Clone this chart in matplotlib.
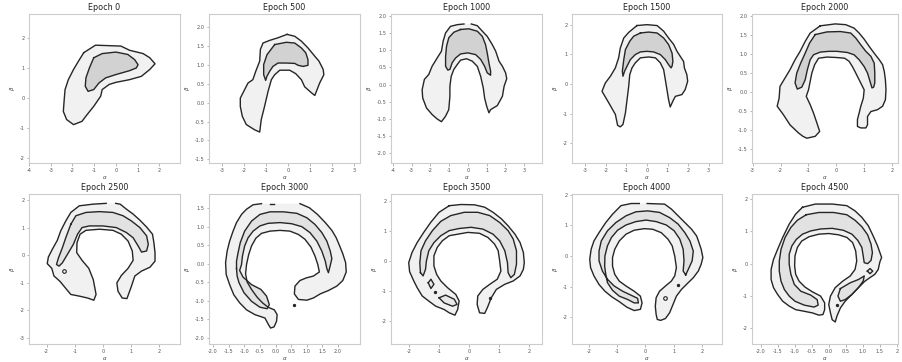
import matplotlib
matplotlib.use("Agg")
import matplotlib.pyplot as plt
from matplotlib.patches import Polygon
import numpy as np

# ---------------- data ----------------
epochs = [0, 500, 1000, 1500, 2000, 2500, 3000, 3500, 4000, 4500]

xlims = [(-4.0, 2.95), (-3.6, 3.25), (-4.1, 3.95), (-3.65, 3.65), (-3.02, 2.2),
         (-2.63, 2.75), (-2.13, 2.7), (-2.6, 2.43), (-2.61, 2.72), (-2.25, 2.03)]
ylims = [(-2.17, 2.8), (-1.6, 2.35), (-2.28, 2.05), (-2.67, 2.36), (-1.87, 2.04),
         (-3.22, 2.23), (-2.16, 1.88), (-2.77, 2.23), (-2.87, 2.02), (-2.48, 2.15)]
xticks = [[-4, -3, -2, -1, 0, 1, 2], [-3, -2, -1, 0, 1, 2, 3], [-4, -3, -2, -1, 0, 1, 2, 3],
          [-3, -2, -1, 0, 1, 2, 3], [-3, -2, -1, 0, 1, 2],
          [-2, -1, 0, 1, 2], [-2.0, -1.5, -1.0, -0.5, 0.0, 0.5, 1.0, 1.5, 2.0],
          [-2, -1, 0, 1, 2], [-2, -1, 0, 1, 2],
          [-2.0, -1.5, -1.0, -0.5, 0.0, 0.5, 1.0, 1.5, 2.0]]
yticks = [[-2, -1, 0, 1, 2], [-1.5, -1.0, -0.5, 0.0, 0.5, 1.0, 1.5, 2.0],
          [-2.0, -1.5, -1.0, -0.5, 0.0, 0.5, 1.0, 1.5, 2.0], [-2, -1, 0, 1, 2],
          [-1.5, -1.0, -0.5, 0.0, 0.5, 1.0, 1.5, 2.0],
          [-3, -2, -1, 0, 1, 2], [-2.0, -1.5, -1.0, -0.5, 0.0, 0.5, 1.0, 1.5],
          [-2, -1, 0, 1, 2], [-2, -1, 0, 1, 2], [-2, -1, 0, 1, 2]]
xlabel = r"$\alpha$"
ylabel = r"$\beta$"

# contour vertices (outer = lower density level, inner = higher density level)
ep0_outer = [(-1.48, 1.51), (-0.94, 1.76), (0.23, 1.73), (0.63, 1.59), (1.25, 1.48), (1.56, 1.34),
             (1.80, 1.14), (1.56, 0.95), (1.17, 0.72), (0.63, 0.61), (0.0, 0.52), (-0.31, 0.45),
             (-0.63, 0.28), (-0.70, 0.06), (-1.02, -0.28), (-1.33, -0.56), (-1.56, -0.78),
             (-1.95, -0.89), (-2.27, -0.72), (-2.42, -0.45), (-2.38, -0.06), (-2.34, 0.28),
             (-2.19, 0.61), (-1.95, 0.95), (-1.72, 1.23)]
ep0_inner = [(-1.02, 1.34), (-0.63, 1.48), (0.0, 1.53), (0.55, 1.45), (0.86, 1.28), (1.02, 1.11),
             (0.94, 1.0), (0.63, 0.91), (0.0, 0.78), (-0.47, 0.67), (-0.78, 0.50), (-1.02, 0.28),
             (-1.28, 0.22), (-1.41, 0.39), (-1.38, 0.67), (-1.22, 1.0)]

ep500_outer = [(-0.06, 1.81), (0.29, 1.76), (0.59, 1.63), (0.89, 1.45), (1.20, 1.23), (1.39, 1.10),
               (1.58, 0.88), (1.61, 0.74), (1.42, 0.52), (1.20, 0.19), (1.05, 0.26), (0.74, 0.42),
               (0.59, 0.61), (0.33, 0.77), (0.06, 0.86), (-0.39, 0.86), (-0.62, 0.74), (-0.77, 0.61),
               (-0.92, 0.30), (-1.08, -0.10), (-1.23, -0.45), (-1.30, -0.78), (-1.53, -0.72),
               (-1.91, -0.58), (-2.09, -0.36), (-2.18, -0.10), (-2.18, 0.12), (-1.98, 0.35),
               (-1.83, 0.52), (-1.61, 0.61), (-1.48, 0.83), (-1.30, 1.10), (-1.27, 1.41),
               (-1.15, 1.58), (-0.85, 1.65), (-0.47, 1.72)]
ep500_inner = [(-0.62, 1.54), (-0.09, 1.60), (0.29, 1.58), (0.59, 1.45), (0.79, 1.32), (0.89, 1.14),
               (0.89, 0.99), (0.67, 0.96), (0.44, 0.99), (0.29, 1.04), (-0.09, 1.05), (-0.47, 1.05),
               (-0.70, 0.96), (-0.85, 0.83), (-0.97, 0.70), (-1.03, 0.59), (-1.12, 0.74),
               (-1.12, 1.01), (-0.97, 1.27)]

ep1000_outer = [(0.18, 1.76), (0.50, 1.71), (0.77, 1.55), (1.03, 1.40), (1.30, 1.16), (1.48, 0.97),
                (1.66, 0.68), (1.84, 0.53), (2.01, 0.34), (2.07, 0.17), (1.93, -0.05), (1.84, -0.34),
                (1.57, -0.61), (1.21, -0.73), (1.12, -0.82), (1.00, -0.63), (0.89, -0.39),
                (0.82, -0.10), (0.68, 0.24), (0.50, 0.53), (0.23, 0.68), (-0.07, 0.75), (-0.39, 0.71),
                (-0.57, 0.58), (-0.75, 0.44), (-0.89, 0.24), (-0.96, -0.05), (-0.96, -0.34),
                (-1.02, -0.73), (-1.19, -0.92), (-1.41, -1.08), (-1.64, -1.00), (-1.91, -0.87),
                (-2.21, -0.68), (-2.41, -0.39), (-2.44, -0.15), (-2.32, 0.15), (-2.09, 0.29),
                (-1.91, 0.53), (-1.64, 0.77), (-1.41, 0.97), (-1.32, 1.26), (-1.19, 1.50),
                (-0.93, 1.69), (-0.57, 1.74), (-0.21, 1.76)]
ep1000_inner = [(-0.39, 1.60), (0.05, 1.62), (0.50, 1.55), (0.77, 1.40), (0.94, 1.16), (1.03, 0.92),
                (1.12, 0.63), (1.21, 0.39), (1.21, 0.27), (1.03, 0.34), (0.89, 0.53), (0.68, 0.73),
                (0.41, 0.87), (0.0, 0.92), (-0.39, 0.89), (-0.66, 0.77), (-0.84, 0.63), (-0.96, 0.44),
                (-1.07, 0.42), (-1.19, 0.53), (-1.19, 0.82), (-1.14, 1.11), (-1.02, 1.36), (-0.75, 1.52)]

ep1500_outer = [(-0.49, 1.97), (0.0, 2.0), (0.49, 1.97), (0.81, 1.78), (1.05, 1.55), (1.30, 1.33),
                (1.46, 1.10), (1.62, 0.93), (1.78, 0.76), (1.82, 0.54), (1.94, 0.31), (1.98, 0.09),
                (1.86, -0.19), (1.70, -0.36), (1.38, -0.42), (1.26, -0.58), (1.13, -0.78),
                (1.05, -0.53), (0.97, -0.19), (0.89, 0.15), (0.81, 0.48), (0.65, 0.71), (0.41, 0.88),
                (0.08, 0.91), (-0.32, 0.88), (-0.57, 0.71), (-0.73, 0.54), (-0.84, 0.31),
                (-0.89, -0.08), (-0.97, -0.53), (-1.05, -0.98), (-1.17, -1.37), (-1.30, -1.45),
                (-1.43, -1.40), (-1.54, -1.03), (-1.86, -0.64), (-2.19, -0.25), (-2.03, 0.03),
                (-1.78, 0.26), (-1.54, 0.54), (-1.38, 0.88), (-1.30, 1.21), (-1.13, 1.55), (-0.89, 1.74)]
ep1500_inner = [(-0.32, 1.72), (0.08, 1.75), (0.49, 1.72), (0.81, 1.55), (1.05, 1.33), (1.22, 1.04),
                (1.26, 0.76), (1.22, 0.60), (1.17, 0.54), (1.05, 0.65), (0.89, 0.82), (0.65, 0.99),
                (0.32, 1.08), (0.0, 1.10), (-0.32, 1.08), (-0.57, 0.99), (-0.81, 0.82), (-0.97, 0.60),
                (-1.09, 0.43), (-1.17, 0.26), (-1.20, 0.43), (-1.13, 0.82), (-1.05, 1.16),
                (-0.84, 1.44), (-0.65, 1.61)]

ep2000_outer = [(-0.58, 1.73), (-0.04, 1.78), (0.33, 1.76), (0.63, 1.67), (0.81, 1.54), (0.99, 1.38),
                (1.17, 1.19), (1.35, 1.01), (1.53, 0.84), (1.65, 0.71), (1.71, 0.53), (1.75, 0.31),
                (1.77, 0.05), (1.75, -0.21), (1.65, -0.38), (1.47, -0.47), (1.23, -0.52),
                (1.11, -0.65), (1.11, -0.87), (1.05, -0.95), (0.87, -0.95), (0.75, -0.91),
                (0.75, -0.73), (0.81, -0.56), (0.87, -0.38), (0.96, -0.17), (0.99, 0.05), (0.84, 0.27),
                (0.69, 0.49), (0.57, 0.66), (0.45, 0.80), (0.29, 0.88), (-0.04, 0.90), (-0.34, 0.91),
                (-0.64, 0.88), (-0.78, 0.71), (-0.88, 0.49), (-0.94, 0.27), (-1.00, 0.05),
                (-1.08, -0.12), (-0.94, -0.34), (-0.82, -0.56), (-0.70, -0.82), (-0.60, -1.04),
                (-0.76, -1.17), (-1.06, -1.22), (-1.20, -1.17), (-1.36, -1.08), (-1.66, -0.87),
                (-1.90, -0.60), (-2.12, -0.38), (-2.05, -0.17), (-2.02, 0.14), (-1.84, 0.36),
                (-1.66, 0.58), (-1.48, 0.84), (-1.30, 1.06), (-1.12, 1.32), (-0.94, 1.54)]
ep2000_inner = [(-0.76, 1.50), (-0.34, 1.57), (0.14, 1.58), (0.51, 1.54), (0.69, 1.41), (0.87, 1.23),
                (1.05, 1.06), (1.23, 0.93), (1.35, 0.75), (1.37, 0.49), (1.37, 0.23), (1.33, 0.12),
                (1.27, 0.10), (1.20, 0.27), (1.11, 0.49), (0.99, 0.66), (0.81, 0.84), (0.63, 0.97),
                (0.39, 1.03), (0.02, 1.06), (-0.28, 1.06), (-0.58, 1.04), (-0.82, 0.97),
                (-0.94, 0.84), (-1.04, 0.58), (-1.12, 0.31), (-1.24, 0.12), (-1.40, 0.07),
                (-1.48, 0.23), (-1.42, 0.49), (-1.28, 0.75), (-1.12, 1.01), (-0.96, 1.28)]

ep2500_outer = [(0.46, 1.89), (0.62, 1.86), (0.84, 1.68), (1.08, 1.50), (1.32, 1.28), (1.56, 1.03),
                (1.77, 0.77), (1.82, 0.46), (1.86, 0.10), (1.86, -0.21), (1.68, -0.43), (1.38, -0.57),
                (1.14, -0.75), (1.02, -1.12), (0.86, -1.57), (0.69, -1.55), (0.54, -1.30),
                (0.50, -1.00), (0.66, -0.73), (0.90, -0.47), (1.08, -0.18), (1.05, 0.16), (0.90, 0.52),
                (0.66, 0.77), (0.36, 0.91), (-0.12, 0.95), (-0.60, 0.91), (-0.81, 0.77), (-0.92, 0.46),
                (-0.93, 0.10), (-0.74, -0.18), (-0.50, -0.47), (-0.34, -0.88), (-0.24, -1.42),
                (-0.32, -1.63), (-0.54, -1.55), (-0.84, -1.48), (-1.14, -1.42), (-1.32, -1.20),
                (-1.53, -0.94), (-1.74, -0.75), (-1.82, -0.47), (-1.98, -0.30), (-1.94, -0.06),
                (-1.80, 0.22), (-1.62, 0.55), (-1.50, 0.89), (-1.32, 1.25), (-1.14, 1.56),
                (-0.84, 1.80), (-0.36, 1.86), (0.12, 1.89)]
ep2500_inner = [(-1.14, 1.13), (-0.96, 1.44), (-0.60, 1.56), (-0.12, 1.59), (0.36, 1.56), (0.72, 1.44),
                (1.02, 1.25), (1.32, 1.01), (1.56, 0.71), (1.62, 0.40), (1.56, 0.16), (1.38, 0.12),
                (1.26, 0.34), (1.08, 0.64), (0.84, 0.83), (0.48, 1.01), (0.0, 1.07), (-0.48, 1.07),
                (-0.74, 1.01), (-0.90, 0.77), (-1.05, 0.40), (-1.26, 0.04), (-1.44, -0.27),
                (-1.56, -0.39), (-1.65, -0.33), (-1.58, -0.09), (-1.44, 0.28), (-1.32, 0.64)]
ep2500_small = [(-1.38, -0.57)]

ep3000_outer = [(-0.45, 1.62), (-0.72, 1.59), (-0.93, 1.47), (-1.09, 1.33), (-1.25, 1.11), (-1.36, 0.88),
                (-1.47, 0.61), (-1.55, 0.34), (-1.60, 0.03), (-1.58, -0.29), (-1.47, -0.56),
                (-1.34, -0.83), (-1.15, -1.05), (-0.93, -1.24), (-0.66, -1.37), (-0.34, -1.46),
                (-0.24, -1.62), (-0.16, -1.73), (-0.05, -1.70), (0.03, -1.55), (0.05, -1.37),
                (-0.04, -1.24), (-0.24, -1.17), (-0.42, -1.05), (-0.59, -0.90), (-0.77, -0.69),
                (-0.91, -0.49), (-0.96, -0.27), (-0.93, -0.02), (-0.86, 0.25), (-0.77, 0.48),
                (-0.63, 0.69), (-0.45, 0.82), (-0.18, 0.88), (0.14, 0.90), (0.46, 0.88), (0.73, 0.79),
                (0.94, 0.66), (1.13, 0.45), (1.26, 0.21), (1.35, -0.02), (1.40, -0.22), (1.21, -0.33),
                (0.98, -0.38), (0.78, -0.45), (0.62, -0.60), (0.60, -0.81), (0.73, -0.96),
                (1.00, -0.98), (1.21, -0.92), (1.43, -0.81), (1.69, -0.72), (1.96, -0.60),
                (2.15, -0.45), (2.26, -0.22), (2.24, 0.03), (2.15, 0.27), (2.05, 0.48), (1.94, 0.70),
                (1.80, 0.90), (1.59, 1.11), (1.34, 1.33), (1.08, 1.51), (0.78, 1.62)]
ep3000_dash = [(-0.18, 1.62), (-0.04, 1.62)]
ep3000_inner = [(-1.25, -0.13), (-1.25, 0.07), (-1.20, 0.30), (-1.13, 0.57), (-0.99, 0.88), (-0.77, 1.15),
                (-0.50, 1.33), (-0.18, 1.40), (0.25, 1.40), (0.68, 1.36), (1.00, 1.24), (1.26, 1.06),
                (1.48, 0.84), (1.64, 0.61), (1.75, 0.34), (1.80, 0.14), (1.75, -0.04), (1.69, -0.24),
                (1.64, -0.13), (1.59, 0.07), (1.48, 0.34), (1.32, 0.61), (1.10, 0.84), (0.84, 1.00),
                (0.51, 1.08), (0.14, 1.11), (-0.24, 1.09), (-0.50, 1.02), (-0.72, 0.88), (-0.88, 0.70),
                (-0.99, 0.48), (-1.06, 0.21), (-1.09, -0.02), (-1.15, -0.18), (-1.04, -0.36),
                (-0.77, -0.56), (-0.47, -0.69), (-0.29, -0.87), (-0.20, -1.10), (-0.27, -1.21),
                (-0.50, -1.17), (-0.77, -1.01), (-1.01, -0.78), (-1.17, -0.51), (-1.23, -0.33)]
ep3000_small = [(0.60, -1.12)]

ep3500_outer = [(-0.66, 1.84), (-0.27, 1.88), (0.18, 1.87), (0.52, 1.79), (0.80, 1.62), (1.08, 1.40),
                (1.30, 1.17), (1.53, 0.89), (1.70, 0.61), (1.81, 0.28), (1.84, -0.06), (1.81, -0.28),
                (1.70, -0.50), (1.47, -0.67), (1.19, -0.78), (0.91, -0.95), (0.74, -1.23),
                (0.61, -1.56), (0.52, -1.75), (0.35, -1.73), (0.27, -1.45), (0.29, -1.17),
                (0.46, -0.95), (0.69, -0.78), (0.94, -0.61), (1.06, -0.34), (1.02, 0.0), (0.97, 0.34),
                (0.85, 0.56), (0.63, 0.78), (0.35, 0.92), (-0.04, 0.95), (-0.38, 0.89), (-0.66, 0.84),
                (-0.89, 0.67), (-1.06, 0.45), (-1.17, 0.17), (-1.17, -0.17), (-1.08, -0.45),
                (-0.94, -0.67), (-0.72, -0.89), (-0.44, -1.12), (-0.33, -1.34), (-0.38, -1.62),
                (-0.47, -1.81), (-0.66, -1.73), (-0.83, -1.62), (-1.11, -1.51), (-1.34, -1.34),
                (-1.56, -1.17), (-1.73, -0.89), (-1.84, -0.67), (-1.98, -0.36), (-2.01, -0.06),
                (-1.90, 0.28), (-1.73, 0.61), (-1.51, 0.95), (-1.28, 1.28), (-1.00, 1.62)]
ep3500_inner = [(-1.62, -0.39), (-1.64, -0.06), (-1.60, 0.34), (-1.45, 0.67), (-1.22, 1.01), (-0.94, 1.32),
                (-0.61, 1.51), (-0.16, 1.62), (0.29, 1.62), (0.69, 1.51), (1.02, 1.28), (1.30, 1.01),
                (1.47, 0.73), (1.58, 0.34), (1.58, -0.11), (1.51, -0.45), (1.39, -0.56), (1.30, -0.39),
                (1.28, -0.06), (1.19, 0.34), (1.02, 0.67), (0.80, 0.89), (0.46, 1.06), (0.07, 1.12),
                (-0.33, 1.08), (-0.66, 1.01), (-0.94, 0.84), (-1.17, 0.61), (-1.34, 0.34), (-1.42, 0.0),
                (-1.45, -0.28), (-1.53, -0.50)]
ep3500_diamond = [(-1.36, -0.73), (-1.27, -0.61), (-1.17, -0.78), (-1.27, -0.92)]
ep3500_blob = [(-1.00, -1.23), (-0.78, -1.14), (-0.49, -1.28), (-0.40, -1.45), (-0.55, -1.51), (-0.83, -1.40)]
ep3500_small = [(-1.15, -1.03), (0.71, -1.23)]

ep4000_outer = [(0.06, 1.71), (0.68, 1.69), (0.92, 1.53), (1.16, 1.31), (1.40, 1.09), (1.64, 0.87),
                (1.82, 0.65), (1.90, 0.44), (1.98, 0.22), (2.04, -0.05), (1.98, -0.27), (1.88, -0.49),
                (1.70, -0.71), (1.52, -0.87), (1.28, -1.09), (1.10, -1.31), (0.98, -1.58),
                (0.86, -1.85), (0.71, -2.04), (0.54, -2.10), (0.42, -2.07), (0.38, -1.91),
                (0.35, -1.64), (0.38, -1.36), (0.50, -1.15), (0.71, -0.98), (0.92, -0.82),
                (1.04, -0.65), (1.10, -0.38), (1.04, 0.0), (0.95, 0.33), (0.80, 0.55), (0.56, 0.76),
                (0.26, 0.87), (-0.04, 0.89), (-0.40, 0.84), (-0.69, 0.71), (-0.93, 0.49), (-1.09, 0.22),
                (-1.17, -0.05), (-1.17, -0.33), (-1.09, -0.60), (-0.93, -0.82), (-0.69, -0.98),
                (-0.40, -1.15), (-0.18, -1.31), (-0.12, -1.53), (-0.18, -1.74), (-0.40, -1.78),
                (-0.66, -1.67), (-0.93, -1.49), (-1.20, -1.33), (-1.44, -1.15), (-1.65, -0.93),
                (-1.83, -0.65), (-1.95, -0.38), (-1.98, -0.11), (-1.93, 0.22), (-1.83, 0.49),
                (-1.65, 0.76), (-1.41, 1.09), (-1.17, 1.36), (-0.87, 1.64), (-0.51, 1.71), (-0.22, 1.71)]
ep4000_inner = [(1.43, -0.62), (1.52, -0.44), (1.66, -0.16), (1.70, 0.16), (1.58, 0.49), (1.40, 0.76),
                (1.16, 1.04), (0.86, 1.25), (0.50, 1.42), (0.08, 1.47), (-0.34, 1.44), (-0.69, 1.31),
                (-1.05, 1.09), (-1.35, 0.82), (-1.57, 0.49), (-1.65, 0.16), (-1.65, -0.16),
                (-1.53, -0.49), (-1.35, -0.76), (-1.11, -0.98), (-0.81, -1.15), (-0.51, -1.28),
                (-0.28, -1.38), (-0.25, -1.53), (-0.40, -1.53), (-0.63, -1.42), (-0.93, -1.31),
                (-1.17, -1.12), (-1.35, -0.87), (-1.41, -0.60), (-1.45, -0.33), (-1.44, 0.0),
                (-1.35, 0.33), (-1.21, 0.60), (-0.99, 0.84), (-0.69, 1.01), (-0.34, 1.12), (0.02, 1.17),
                (0.38, 1.12), (0.74, 1.01), (1.02, 0.82), (1.22, 0.55), (1.34, 0.22), (1.37, -0.16),
                (1.34, -0.49)]
ep4000_small = [(0.68, -1.38), (1.16, -0.95)]

ep4500_outer = [(-0.77, 1.74), (-0.39, 1.84), (0.10, 1.84), (0.53, 1.79), (0.77, 1.63), (0.97, 1.43),
                (1.16, 1.17), (1.30, 0.86), (1.43, 0.55), (1.50, 0.34), (1.55, 0.19), (1.50, 0.06),
                (1.45, -0.18), (1.35, -0.33), (1.21, -0.43), (1.06, -0.54), (0.87, -0.74),
                (0.68, -0.95), (0.48, -1.16), (0.34, -1.37), (0.24, -1.62), (0.19, -1.80),
                (0.10, -1.73), (0.05, -1.52), (0.0, -1.26), (0.05, -1.00), (0.19, -0.74), (0.41, -0.54),
                (0.63, -0.38), (0.77, -0.18), (0.82, 0.08), (0.79, 0.39), (0.70, 0.65), (0.53, 0.81),
                (0.29, 0.89), (0.0, 0.93), (-0.29, 0.91), (-0.58, 0.83), (-0.79, 0.70), (-0.92, 0.50),
                (-0.99, 0.24), (-1.00, -0.07), (-0.97, -0.33), (-0.87, -0.54), (-0.70, -0.72),
                (-0.48, -0.87), (-0.24, -1.00), (-0.12, -1.21), (-0.12, -1.42), (-0.17, -1.57),
                (-0.29, -1.59), (-0.48, -1.52), (-0.72, -1.47), (-0.97, -1.42), (-1.16, -1.31),
                (-1.35, -1.16), (-1.50, -0.95), (-1.62, -0.74), (-1.69, -0.49), (-1.69, -0.18),
                (-1.62, 0.13), (-1.50, 0.44), (-1.35, 0.81), (-1.16, 1.22), (-0.97, 1.53)]
ep4500_inner = [(-0.66, 1.51), (-0.29, 1.58), (0.14, 1.58), (0.53, 1.51), (0.77, 1.34), (0.97, 1.14),
                (1.14, 0.89), (1.24, 0.60), (1.28, 0.34), (1.24, 0.10), (1.14, 0.0), (1.04, 0.03),
                (1.01, 0.24), (0.97, 0.50), (0.85, 0.72), (0.68, 0.91), (0.43, 1.03), (0.10, 1.09),
                (-0.24, 1.07), (-0.53, 1.01), (-0.77, 0.91), (-0.95, 0.75), (-1.08, 0.55),
                (-1.16, 0.29), (-1.16, -0.02), (-1.11, -0.33), (-1.01, -0.64), (-0.82, -0.85),
                (-0.53, -0.97), (-0.34, -1.11), (-0.31, -1.28), (-0.43, -1.34), (-0.72, -1.28),
                (-0.99, -1.16), (-1.16, -1.00), (-1.30, -0.80), (-1.40, -0.54), (-1.45, -0.23),
                (-1.45, 0.08), (-1.40, 0.44), (-1.28, 0.81), (-1.11, 1.12), (-0.92, 1.34)]
ep4500_lobe = [(0.34, -0.77), (0.63, -0.59), (0.87, -0.49), (1.04, -0.38), (1.01, -0.54), (0.87, -0.74),
               (0.68, -0.95), (0.48, -1.11), (0.34, -1.16), (0.27, -1.00)]
ep4500_diamond = [(1.13, -0.23), (1.21, -0.15), (1.29, -0.23), (1.21, -0.31)]
ep4500_small = [(0.24, -1.28)]

# (outer contour, outer closed?, list of inner contours, extra closed loops, tiny dots, open dashes)
panels = [
    (ep0_outer, True, [ep0_inner], [], [], []),
    (ep500_outer, True, [ep500_inner], [], [], []),
    (ep1000_outer, False, [ep1000_inner], [], [], []),
    (ep1500_outer, True, [ep1500_inner], [], [], []),
    (ep2000_outer, True, [ep2000_inner], [], [], []),
    (ep2500_outer, False, [ep2500_inner], [], ep2500_small, []),
    (ep3000_outer, False, [ep3000_inner], [], ep3000_small, [ep3000_dash]),
    (ep3500_outer, True, [ep3500_inner], [ep3500_diamond, ep3500_blob], ep3500_small, []),
    (ep4000_outer, False, [ep4000_inner], [], ep4000_small, []),
    (ep4500_outer, True, [ep4500_inner, ep4500_lobe], [ep4500_diamond], ep4500_small, []),
]

# ---------------- figure ----------------
W, H = 902, 362
fig = plt.figure(figsize=(W / 100, H / 100), dpi=100)
col_left = [29, 209, 391, 572, 752]
col_w = [151, 151, 151, 150, 146]
row_top = [14, 194]
row_h = [149, 150]

LINE = "#262626"
for i, ep in enumerate(epochs):
    r, c = divmod(i, 5)
    ax = fig.add_axes([col_left[c] / W, (H - row_top[r] - row_h[r]) / H,
                       col_w[c] / W, row_h[r] / H])
    outer, oclosed, inners, extras, dots, dashes = panels[i]
    light = "#f1f1f1"
    dark = "#d2d2d2" if r == 0 else "#e2e2e2"
    ax.add_patch(Polygon(outer, closed=True, facecolor=light, edgecolor="none", zorder=1))
    for inn in inners:
        ax.add_patch(Polygon(inn, closed=True, facecolor=dark, edgecolor="none", zorder=2))
    for ex in extras:
        ax.add_patch(Polygon(ex, closed=True, facecolor="#e8e8e8", edgecolor="none", zorder=2))
    # contour lines
    ov = np.array(outer + ([outer[0]] if oclosed else []))
    ax.plot(ov[:, 0], ov[:, 1], color=LINE, lw=1.0, zorder=4, solid_joinstyle="round")
    for inn in inners + extras:
        iv = np.array(inn + [inn[0]])
        ax.plot(iv[:, 0], iv[:, 1], color=LINE, lw=1.0, zorder=4, solid_joinstyle="round")
    for d in dashes:
        dv = np.array(d)
        ax.plot(dv[:, 0], dv[:, 1], color=LINE, lw=1.0, zorder=4)
    for k, (dx, dy) in enumerate(dots):
        ax.plot([dx], [dy], marker="o", ms=2.6 if (i in (5, 8) and k == 0) else 1.6,
                mfc="none" if (i in (5, 8) and k == 0) else LINE, mec=LINE, mew=0.8, zorder=5)

    ax.set_xlim(*xlims[i])
    ax.set_ylim(*ylims[i])
    ax.set_xticks(xticks[i])
    ax.set_yticks(yticks[i])
    if c in (1, 2, 4) and r == 0 or (i in (6,)):
        ax.set_yticklabels([f"{v:.1f}" for v in yticks[i]])
    else:
        ax.set_yticklabels([f"{v:g}" for v in yticks[i]])
    if i in (6, 9):
        ax.set_xticklabels([f"{v:.1f}" if v != 2.0 or i == 6 else "2" for v in xticks[i]])
    else:
        ax.set_xticklabels([f"{v:g}" for v in xticks[i]])
    ax.tick_params(labelsize=3.6, length=1.8, width=0.5, color="#999999",
                   labelcolor="#555555", pad=1.5)
    for s in ax.spines.values():
        s.set_color("#cccccc")
        s.set_linewidth(0.8)
    ax.set_xlabel(xlabel, fontsize=4, color="#444444", labelpad=1)
    ax.set_ylabel(ylabel, fontsize=4, color="#444444", labelpad=2)
    ax.set_title(f"Epoch {ep}", fontsize=5.8, color="#222222", pad=3)

fig.savefig("out.png", dpi=100)
